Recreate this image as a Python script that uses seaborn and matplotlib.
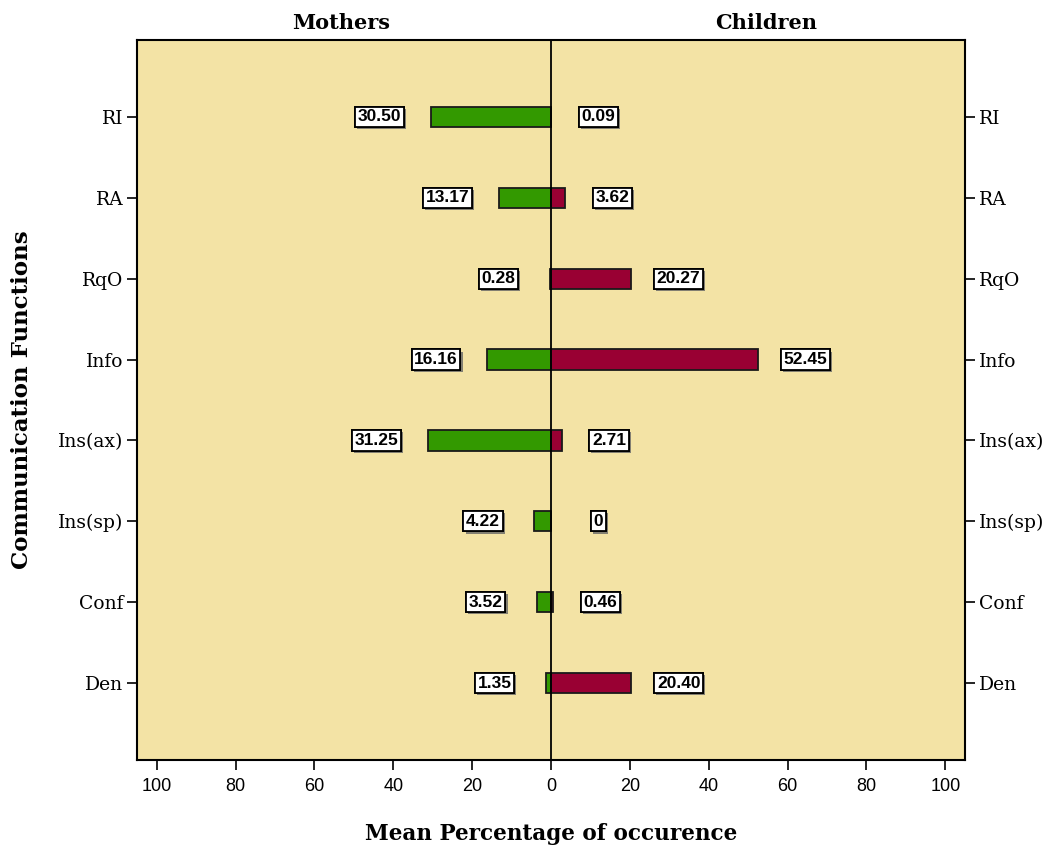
import numpy as np
import pandas as pd
import seaborn as sns
import matplotlib as mpl
from matplotlib import pyplot as plt
import matplotlib.patheffects as pe

# mean percentage of occurrence per communication function
functions = ["RI", "RA", "RqO", "Info", "Ins(ax)", "Ins(sp)", "Conf", "Den"]
mothers = [30.50, 13.17, 0.28, 16.16, 31.25, 4.22, 3.52, 1.35]
children = [0.09, 3.62, 20.27, 52.45, 2.71, 0.00, 0.46, 20.40]
x_ticks = [-100, -80, -60, -40, -20, 0, 20, 40, 60, 80, 100]

bg = "#F3E3A5"
green = "#339900"
red = "#990033"
serif = "DejaVu Serif"

sns.set_style("white")
plt.rcParams["text.color"] = "black"
plt.rcParams["axes.labelcolor"] = "black"
plt.rcParams["xtick.color"] = "black"
plt.rcParams["ytick.color"] = "black"

def fmt(v):
    return "0" if v == 0 else f"{v:.2f}"

def pyramid_df():
    m = pd.DataFrame({"function": functions, "value": [-v for v in mothers], "group": "Mothers"})
    c = pd.DataFrame({"function": functions, "value": children, "group": "Children"})
    return pd.concat([m, c], ignore_index=True)

def label(ax, x, y, text):
    t = ax.text(x, y, text, ha="center", va="center", fontsize=12.5, fontweight="bold",
                family="Liberation Sans", color="black",
                bbox=dict(boxstyle="square,pad=0.15", fc="white", ec="black", lw=1.3))
    t.get_bbox_patch().set_path_effects([pe.withSimplePatchShadow(offset=(1.5, -1.5), shadow_rgbFace="#666666", alpha=0.8), pe.Normal()])

def main():
    df = pyramid_df()
    fig = plt.figure(figsize=(10.52, 8.5), dpi=100)
    ax = fig.add_axes([137 / 1052, 1 - 760 / 850, (965 - 137) / 1052, (760 - 40) / 850])
    ax.set_facecolor(bg)

    sns.barplot(data=df, x="value", y="function", hue="group", order=functions,
                hue_order=["Mothers", "Children"], palette=[green, red], saturation=1,
                dodge=False, width=0.25, edgecolor="#1a1a1a", linewidth=1.3,
                legend=False, ax=ax)

    ax.axvline(0, color="black", lw=1.3)
    ax.set_xlim(-105, 105)
    ax.set_ylim(7.95, -0.95)
    ax.set_xticks(x_ticks)
    ax.set_xticklabels([str(abs(t)) for t in x_ticks], family="Liberation Sans", fontsize=13)
    ax.tick_params(axis="x", direction="out", length=7, width=1.2, bottom=True, pad=6)
    ax.tick_params(axis="y", direction="out", length=7, width=1.2, left=True, right=True,
                   labelright=True, labelsize=13.5, pad=3)
    for t in ax.get_yticklabels():
        t.set_family(serif)
    for s in ax.spines.values():
        s.set_color("black")
        s.set_linewidth(1.5)

    ax.set_xlabel("Mean Percentage of occurence", family=serif, fontweight="bold", fontsize=15.5, labelpad=20)
    ax.set_ylabel("Communication Functions", family=serif, fontweight="bold", fontsize=16.5, labelpad=18)

    for i, (m, c) in enumerate(zip(mothers, children)):
        label(ax, -(m + 13), i, fmt(m))
        label(ax, c + 12, i, fmt(c))

    ax.text(0.247, 1.01, "Mothers", transform=ax.transAxes, ha="center", va="bottom",
            family=serif, fontweight="bold", fontsize=15)
    ax.text(0.76, 1.01, "Children", transform=ax.transAxes, ha="center", va="bottom",
            family=serif, fontweight="bold", fontsize=15)

    fig.savefig("out.png", dpi=100, facecolor="white")

if __name__ == "__main__":
    main()
